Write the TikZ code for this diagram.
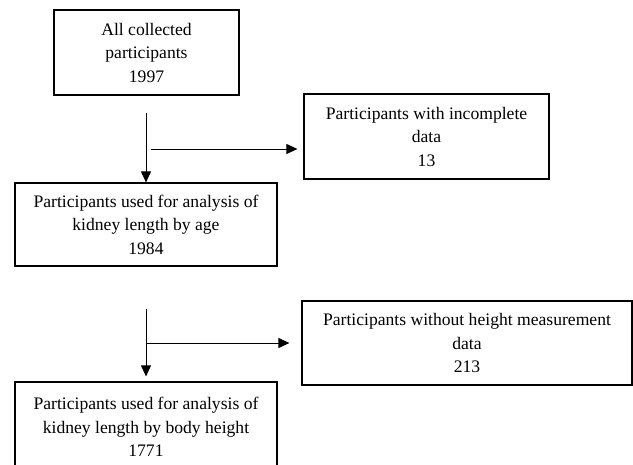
\documentclass[tikz,border=0pt]{standalone}
\usepackage{fontspec}
\setmainfont{Liberation Serif}
\usetikzlibrary{arrows.meta}

\begin{document}
\begin{tikzpicture}[
  x=1pt, y=-1pt,
  font=\fontsize{17.6}{23.5}\selectfont,
  bloco/.style={draw=black, line width=1.2pt, align=center, inner sep=0pt},
  flecha/.style={-{Triangle[length=11pt, width=10pt]}, line width=0.9pt, draw=black}]
\useasboundingbox (0,0) rectangle (633,465);
\clip (0,0) rectangle (633,465);
\node[bloco, minimum width=185pt, minimum height=85pt] (todos) at (146.5,52.5) {All collected\\participants\\1997};
\node[bloco, minimum width=245pt, minimum height=85pt] (incompletos) at (426.5,136.5) {Participants with incomplete\\data\\13};
\node[bloco, minimum width=262pt, minimum height=83pt] (idade) at (146,224.5) {Participants used for analysis of\\kidney length by age\\1984};
\node[bloco, minimum width=330pt, minimum height=84pt] (semaltura) at (467,343) {Participants without height measurement\\data\\213};
\node[bloco, minimum width=262pt, minimum height=90pt] (altura) at (146,427) {Participants used for analysis of\\kidney length by body height\\1771};
% pontas livres das setas
\coordinate (ini1) at (146,113);
\coordinate (desvio1) at (151,149);
\coordinate (ini2) at (146,309);
\coordinate (desvio2) at (146,343);
\draw[flecha] (ini1) -- (idade.north);
\draw[flecha, shorten >=6pt] (desvio1) -- (desvio1 -| incompletos.west);
\draw[flecha, shorten >=5pt] (ini2) -- (altura.north);
\draw[flecha, shorten >=12pt] (desvio2) -- (semaltura.west);
\end{tikzpicture}
\end{document}
